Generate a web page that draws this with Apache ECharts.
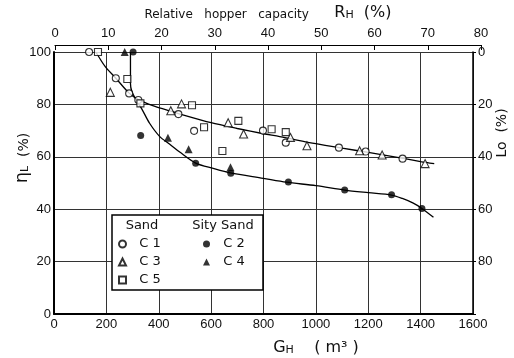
<!DOCTYPE html>
<html>
<head>
<meta charset="utf-8">
<script src="https://cdn.jsdelivr.net/npm/echarts@6/dist/echarts.min.js"></script>
<style>
  html, body { margin: 0; padding: 0; background: #fff; }
  #chart { width: 514px; height: 358px; }
</style>
</head>
<body>
<div id="chart"></div>
<script>
// Hopper capacity G_H (m³) vs. loading efficiency η_L (%)
// Sand samples (open marks)
const sandC1 = [[134,100],[236,90.0],[287,84.2],[322,81.7],[475,76.3],[535,69.9],[798,70.0],[885,65.4],[1088,63.5],[1190,62.0],[1331,59.3]];
const sandC3 = [[215,84.6],[446,77.6],[487,80.2],[665,73.0],[724,68.7],[903,67.4],[966,64.2],[1167,62.3],[1253,60.7],[1417,57.4]];
const sandC5 = [[168,100],[280,89.7],[330,80.4],[527,79.7],[573,71.3],[643,62.2],[704,73.7],[831,70.5],[885,69.4]];
// Silty sand samples (filled marks)
const siltyC2 = [[302,100],[331,68.1],[541,57.5],[675,53.7],[895,50.4],[1110,47.3],[1289,45.5],[1405,40.3]];
const siltyC4 = [[270,100],[435,67.3],[514,62.9],[674,56.0]];
// Fitted trend curves
const sandFit = [[160,100],[195,94.5],[236,90.0],[287,84.3],[322,81.8],[380,79.4],[429,77.9],[475,76.5],[600,73.0],[700,70.8],[800,68.8],[862,67.7],[1000,65.0],[1100,63.3],[1200,61.7],[1300,60.0],[1400,58.2],[1452,57.4]];
const siltyFit = [[292,100],[292,88],[297,85],[312,82],[334,78.5],[365,72.8],[404,67.7],[442,64.8],[480,61.8],[541,57.6],[608,55.6],[674,53.9],[799,51.8],[887,50.3],[1000,49.0],[1110,47.3],[1200,46.3],[1289,45.4],[1330,44.1],[1370,42.4],[1405,40.3],[1449,36.9]];

// Axis ranges [min, max, interval]
const ghRange = [0, 1600, 200];
const rhRange = [0, 80, 10];
const etaRange = [0, 100, 20];
const loRange = [0, 100, 20];

const FONT = '"Liberation Sans Narrow", "Liberation Sans", sans-serif';
const TFONT = '"DejaVu Sans", sans-serif';
const INK = '#111';

const chart = echarts.init(document.getElementById('chart'), null, { renderer: 'canvas' });

const labelStyle = { fontFamily: FONT, fontSize: 13, color: INK, formatter: v => String(v) };

function markSeries(name, data, symbol, size, filled) {
  return {
    type: 'scatter', name, data, symbol, symbolSize: size,
    xAxisIndex: 0, yAxisIndex: 0, z: 5,
    itemStyle: {
      color: filled ? '#000' : '#fff',
      borderColor: '#000',
      borderWidth: filled ? 0 : 1.1
    }
  };
}

function fitSeries(data) {
  return {
    type: 'line', data, smooth: 0.3, showSymbol: false, silent: true,
    xAxisIndex: 0, yAxisIndex: 0, z: 3,
    lineStyle: { color: '#000', width: 1.3 }
  };
}

const legendBase = {
  orient: 'vertical', padding: 0, itemWidth: 7, itemHeight: 7, itemGap: 2,
  selectedMode: false, z: 6,
  formatter: name => '  ' + name,
  textStyle: { fontFamily: TFONT, fontSize: 13, color: INK, lineHeight: 16 }
};

chart.setOption({
  animation: false,
  backgroundColor: '#fff',
  grid: [
    { left: 54, right: 41, top: 52, bottom: 44 },
    { left: 55, right: 33, top: 43, height: 2 }
  ],
  xAxis: [
    {
      gridIndex: 0, type: 'value', position: 'bottom',
      min: ghRange[0], max: ghRange[1], interval: ghRange[2],
      axisLine: { lineStyle: { color: '#000', width: 1.8 } },
      axisTick: { show: false },
      axisLabel: Object.assign({ margin: 4 }, labelStyle),
      splitLine: { show: true, lineStyle: { color: '#333', width: 1 } }
    },
    {
      gridIndex: 1, type: 'value', position: 'top',
      min: rhRange[0], max: rhRange[1], interval: rhRange[2],
      axisLine: { lineStyle: { color: '#000', width: 1.2 } },
      axisTick: { inside: true, length: 5, lineStyle: { color: '#000', width: 1 } },
      axisLabel: Object.assign({ margin: 3 }, labelStyle),
      splitLine: { show: false },
      name: '{t|Relative   hopper   capacity}{a|     R}{s|H}{a|  (%)}',
      nameLocation: 'middle', nameGap: 22,
      nameTextStyle: {
        rich: {
          t: { fontFamily: TFONT, fontSize: 12, color: INK, verticalAlign: 'bottom', lineHeight: 18 },
          a: { fontFamily: TFONT, fontSize: 16, color: INK, verticalAlign: 'bottom', lineHeight: 18 },
          s: { fontFamily: TFONT, fontSize: 11, color: INK, verticalAlign: 'bottom', lineHeight: 14 }
        }
      }
    }
  ],
  yAxis: [
    {
      gridIndex: 0, type: 'value', position: 'left',
      min: etaRange[0], max: etaRange[1], interval: etaRange[2],
      axisLine: { show: true, lineStyle: { color: '#000', width: 2 } },
      axisTick: { show: false },
      axisLabel: Object.assign({ margin: 3 }, labelStyle),
      splitLine: { show: true, lineStyle: { color: '#333', width: 1 } }
    },
    {
      gridIndex: 0, type: 'value', position: 'right', inverse: true,
      min: loRange[0], max: loRange[1], interval: loRange[2],
      axisLine: { show: true, lineStyle: { color: '#000', width: 1.5 } },
      axisTick: { show: true, length: 3, lineStyle: { color: '#000' } },
      axisLabel: Object.assign({}, labelStyle, { margin: 5, formatter: v => (v === 100 ? '' : String(v)) }),
      splitLine: { show: false }
    },
    { gridIndex: 1, type: 'value', show: false }
  ],
  legend: [
    Object.assign({ data: ['C 1', 'C 3', 'C 5'], left: 118, top: 236 }, legendBase),
    Object.assign({ data: ['C 2', 'C 4'], left: 203, top: 236 }, legendBase)
  ],
  graphic: [
    {
      type: 'rect', z: 5, silent: true,
      shape: { x: 112, y: 215, width: 151, height: 75 },
      style: { fill: '#fff', stroke: '#000', lineWidth: 1.5 }
    },
    {
      type: 'text', z: 6, silent: true, x: 142, y: 226,
      style: { text: 'Sand', fontFamily: TFONT, fontSize: 13, fill: INK, align: 'center', verticalAlign: 'middle' }
    },
    {
      type: 'text', z: 6, silent: true, x: 223, y: 226,
      style: { text: 'Sity Sand', fontFamily: TFONT, fontSize: 13, fill: INK, align: 'center', verticalAlign: 'middle' }
    },
    {
      type: 'text', z: 6, silent: true, x: 316, y: 347,
      style: {
        text: '{a|G}{s|H}{a|    ( m³ )}', align: 'center', verticalAlign: 'middle',
        rich: {
          a: { fontFamily: TFONT, fontSize: 16, fill: INK, verticalAlign: 'bottom', lineHeight: 18 },
          s: { fontFamily: TFONT, fontSize: 11, fill: INK, verticalAlign: 'bottom', lineHeight: 14 }
        }
      }
    },
    {
      type: 'text', z: 6, silent: true, x: 21, y: 158, rotation: Math.PI / 2,
      style: {
        text: '{a|η}{s|L}{p|  (%)}', align: 'center', verticalAlign: 'middle',
        rich: {
          a: { fontFamily: TFONT, fontSize: 18, fill: INK, verticalAlign: 'bottom', lineHeight: 20 },
          s: { fontFamily: TFONT, fontSize: 11, fill: INK, verticalAlign: 'bottom', lineHeight: 14 },
          p: { fontFamily: TFONT, fontSize: 14, fill: INK, verticalAlign: 'bottom', lineHeight: 18 }
        }
      }
    },
    {
      type: 'text', z: 6, silent: true, x: 502, y: 133, rotation: Math.PI / 2,
      style: {
        text: 'Lo  (%)', align: 'center', verticalAlign: 'middle',
        fontFamily: TFONT, fontSize: 14, fill: INK
      }
    }
  ],
  series: [
    fitSeries(sandFit),
    fitSeries(siltyFit),
    markSeries('C 1', sandC1, 'circle', 7, false),
    markSeries('C 3', sandC3, 'triangle', 8, false),
    markSeries('C 5', sandC5, 'rect', 7, false),
    markSeries('C 2', siltyC2, 'circle', 7, true),
    markSeries('C 4', siltyC4, 'triangle', 8, true)
  ]
});
</script>
</body>
</html>
